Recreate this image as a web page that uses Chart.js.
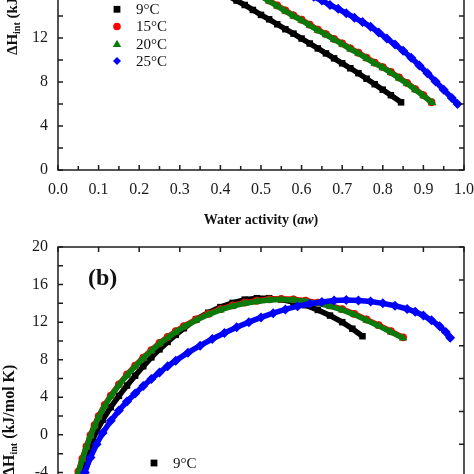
<!DOCTYPE html>
<html><head><meta charset="utf-8">
<script src="https://cdn.jsdelivr.net/npm/chart.js@4.4.1/dist/chart.umd.min.js"></script>
<style>
html,body{margin:0;padding:0;background:#fff;}
#wrap{position:relative;width:474px;height:474px;overflow:hidden;background:#fff;}
#cA{position:absolute;left:0;top:-60px;}
#cB{position:absolute;left:0;top:237px;}
</style></head><body>
<div id="wrap">
<canvas id="cA" width="474" height="300"></canvas>
<canvas id="cB" width="474" height="340"></canvas>
</div>
<script>
// ---------- data ----------
const seriesLabels = ['9°C', '15°C', '20°C', '25°C'];

// Panel (a): water activity vs ΔH_int
const awA9  = [0.42,0.44,0.46,0.48,0.50,0.52,0.54,0.56,0.58,0.60,0.62,0.64,0.66,0.68,0.70,0.72,0.74,0.76,0.78,0.80,0.82,0.845];
const dhA9  = [15.8,15.4,15.0,14.55,14.1,13.7,13.25,12.8,12.4,11.95,11.5,11.05,10.6,10.15,9.7,9.25,8.8,8.3,7.8,7.3,6.8,6.15];
const awA15 = [0.50,0.52,0.54,0.56,0.58,0.60,0.62,0.64,0.66,0.68,0.70,0.72,0.74,0.76,0.78,0.80,0.82,0.84,0.86,0.88,0.90,0.92];
const dhA15 = [15.86,15.41,14.96,14.51,14.06,13.66,13.21,12.76,12.36,11.91,11.51,11.06,10.66,10.21,9.76,9.36,8.91,8.41,7.91,7.36,6.81,6.16];
const awA20 = [0.50,0.52,0.54,0.56,0.58,0.60,0.62,0.64,0.66,0.68,0.70,0.72,0.74,0.76,0.78,0.80,0.82,0.84,0.86,0.88,0.90,0.922];
const dhA20 = [15.8,15.35,14.9,14.45,14.0,13.6,13.15,12.7,12.3,11.85,11.45,11.0,10.6,10.15,9.7,9.3,8.85,8.35,7.85,7.3,6.75,6.1];
const awA25 = [0.63,0.65,0.67,0.69,0.71,0.73,0.75,0.77,0.79,0.81,0.83,0.85,0.87,0.89,0.91,0.93,0.95,0.97,0.984];
const dhA25 = [15.75,15.4,15.0,14.65,14.25,13.85,13.45,13.03,12.5,11.95,11.4,10.85,10.2,9.5,8.8,8.05,7.3,6.55,6.0];

// Panel (b)
const xB9  = [0.055,0.065,0.075,0.085,0.095,0.11,0.13,0.15,0.17,0.19,0.21,0.23,0.25,0.27,0.29,0.31,0.34,0.37,0.40,0.43,0.46,0.49,0.52,0.55,0.58,0.61,0.64,0.67,0.70,0.725,0.75];
const dhB9 = [-4.0,-2.75,-1.6,-0.55,0.4,1.6,2.95,4.15,5.25,6.3,7.3,8.25,9.1,9.9,10.65,11.35,12.3,13.0,13.6,14.05,14.4,14.55,14.55,14.4,14.15,13.8,13.3,12.7,12.0,11.3,10.5];
const xB15  = [0.05,0.06,0.07,0.08,0.09,0.10,0.115,0.13,0.15,0.17,0.19,0.21,0.23,0.25,0.27,0.29,0.31,0.34,0.37,0.40,0.43,0.46,0.49,0.52,0.55,0.58,0.61,0.64,0.67,0.70,0.73,0.76,0.79,0.82,0.85];
const dhB15 = [-3.92,-2.52,-1.22,-0.02,1.03,1.98,3.18,4.18,5.38,6.43,7.38,8.23,9.03,9.78,10.43,11.03,11.58,12.28,12.88,13.38,13.78,14.08,14.28,14.43,14.48,14.43,14.28,14.08,13.78,13.38,12.88,12.28,11.68,11.03,10.38];
const xB20  = [0.05,0.06,0.07,0.08,0.09,0.10,0.115,0.13,0.15,0.17,0.19,0.21,0.23,0.25,0.27,0.29,0.31,0.34,0.37,0.40,0.43,0.46,0.49,0.52,0.55,0.58,0.61,0.64,0.67,0.70,0.73,0.76,0.79,0.82,0.85];
const dhB20 = [-4.0,-2.6,-1.3,-0.1,0.95,1.9,3.1,4.1,5.3,6.35,7.3,8.15,8.95,9.7,10.35,10.95,11.5,12.2,12.8,13.3,13.7,14.0,14.2,14.35,14.4,14.35,14.2,14.0,13.7,13.3,12.8,12.2,11.6,10.95,10.3];
const xB25  = [0.066,0.08,0.095,0.11,0.13,0.15,0.17,0.19,0.21,0.23,0.25,0.27,0.29,0.32,0.35,0.38,0.41,0.44,0.47,0.50,0.53,0.56,0.59,0.62,0.65,0.68,0.71,0.74,0.77,0.80,0.83,0.86,0.88,0.90,0.92,0.94,0.955,0.966];
const dhB25 = [-4.0,-2.4,-1.0,0.2,1.5,2.6,3.55,4.4,5.2,5.95,6.65,7.3,7.9,8.75,9.5,10.2,10.85,11.45,12.0,12.5,12.95,13.35,13.7,13.95,14.15,14.3,14.35,14.3,14.2,14.0,13.75,13.4,13.1,12.7,12.2,11.55,10.95,10.35];

// ---------- styling ----------
const FONT = "'Liberation Serif','Times New Roman',serif";
const AX = '#1c1c1c';
const COLORS = ['#000000', '#ff0000', '#0a7a0a', '#0000ff'];
const STYLES = ['rect', 'circle', 'triangle', 'rectRot'];
const RADII = [4.6, 3.9, 4.9, 5.0];
const ORDERS = [3, 2, 1, 0];

function ds(i, xs, ys) {
  return {
    label: seriesLabels[i],
    data: xs.map((v, k) => ({x: v, y: ys[k]})),
    showLine: true,
    borderColor: COLORS[i],
    backgroundColor: COLORS[i],
    borderWidth: 5.5,
    pointStyle: STYLES[i],
    pointRadius: RADII[i],
    pointBorderWidth: 0,
    order: ORDERS[i]
  };
}

function marker(ctx, style, x, y, r, color) {
  ctx.fillStyle = color;
  ctx.beginPath();
  if (style === 'rect') { const s = r * 0.85; ctx.rect(x - s, y - s, 2 * s, 2 * s); }
  else if (style === 'circle') { ctx.arc(x, y, r * 0.95, 0, Math.PI * 2); }
  else if (style === 'triangle') { ctx.moveTo(x, y - r); ctx.lineTo(x + r * 1.05, y + r * 0.8); ctx.lineTo(x - r * 1.05, y + r * 0.8); ctx.closePath(); }
  else { ctx.moveTo(x, y - r); ctx.lineTo(x + r, y); ctx.lineTo(x, y + r); ctx.lineTo(x - r, y); ctx.closePath(); }
  ctx.fill();
}

function isMajorX(v) { return Math.round(v * 100) % 10 === 0; }

const framePlugin = {
  id: 'frame',
  afterDatasetsDraw(chart, args, o) {
    const {ctx, chartArea: a, scales: {x, y}} = chart;
    ctx.save();
    ctx.strokeStyle = AX;
    ctx.lineWidth = 1.5;
    ctx.strokeRect(a.left, a.top, a.right - a.left, a.bottom - a.top);
    ctx.beginPath();
    const L = 5;
    y.ticks.forEach(t => {
      const p = y.getPixelForValue(t.value);
      ctx.moveTo(a.left, p); ctx.lineTo(a.left + L, p);
      if (!o.rightDiv) { ctx.moveTo(a.right, p); ctx.lineTo(a.right - L, p); }
    });
    if (o.rightDiv) {
      for (let i = 0; i <= o.rightDiv; i++) {
        const p = a.top + i * (a.bottom - a.top) / o.rightDiv;
        ctx.moveTo(a.right, p); ctx.lineTo(a.right - L, p);
      }
    }
    x.ticks.forEach(t => {
      const p = x.getPixelForValue(t.value);
      const major = isMajorX(t.value);
      if (o.bottomTicks) { ctx.moveTo(p, a.bottom); ctx.lineTo(p, a.bottom - (major ? L : L - 1)); }
      if (o.topTicks && major) { ctx.moveTo(p, a.top); ctx.lineTo(p, a.top + L); }
    });
    ctx.stroke();
    ctx.restore();
  },
  afterDraw(chart, args, o) {
    const {ctx, chartArea: a} = chart;
    ctx.save();
    if (o.legend) {
      const lg = o.legend;
      seriesLabels.forEach((lab, i) => {
        const yy = a.top + lg.dy + i * 17.2;
        marker(ctx, STYLES[i], a.left + lg.dx, yy, 4.0, COLORS[i]);
        ctx.fillStyle = '#111';
        ctx.font = '15px ' + FONT;
        ctx.textBaseline = 'middle';
        ctx.textAlign = 'left';
        ctx.fillText(lab, a.left + lg.dx + 19, yy + 1);
      });
    }
    if (o.letter) {
      ctx.fillStyle = '#111';
      ctx.font = 'bold 24px ' + FONT;
      ctx.textBaseline = 'middle';
      ctx.textAlign = 'left';
      ctx.fillText(o.letter, a.left + 30, a.top + 32);
    }
    if (o.xTitle) {
      const parts = [['bold 14px ' + FONT, 'Water activity ('], ['bold italic 14px ' + FONT, 'aw'], ['bold 14px ' + FONT, ')']];
      let w = 0;
      parts.forEach(p => { ctx.font = p[0]; w += ctx.measureText(p[1]).width; });
      let xx = (a.left + a.right) / 2 - w / 2;
      ctx.fillStyle = '#111';
      ctx.textBaseline = 'middle';
      ctx.textAlign = 'left';
      parts.forEach(p => { ctx.font = p[0]; ctx.fillText(p[1], xx, a.bottom + 50); xx += ctx.measureText(p[1]).width; });
    }
    if (o.yTitle) {
      const yt = o.yTitle;
      ctx.translate(yt.x, yt.yRef === 'bottom' ? a.bottom + yt.dy : a.top + yt.dy);
      ctx.rotate(-Math.PI / 2);
      ctx.fillStyle = '#111';
      ctx.textBaseline = 'middle';
      ctx.textAlign = 'left';
      let xx = 0;
      ctx.font = 'bold ' + yt.size + 'px ' + FONT; ctx.fillText('ΔH', xx, 0); xx += ctx.measureText('ΔH').width;
      ctx.font = 'bold 10px ' + FONT; ctx.fillText('int', xx, 4); xx += ctx.measureText('int').width;
      ctx.font = 'bold ' + yt.size + 'px ' + FONT; ctx.fillText(yt.unit, xx, 0);
    }
    ctx.restore();
  }
};

function xTickCb(v) { const k = Math.round(v * 100); return k % 10 === 0 ? (k / 100).toFixed(1) : ''; }
function yTickCb(v) { const k = Math.round(v); return k % 4 === 0 ? String(k) : ''; }
function noPad(s) { s.paddingTop = 0; s.paddingBottom = 0; s.paddingLeft = 0; s.paddingRight = 0; }

function baseScales(yMin, yMax, xh) {
  return {
    x: {
      type: 'linear', min: 0, max: 1,
      grid: {display: false, drawTicks: false},
      border: {display: false},
      ticks: {stepSize: 0.05, autoSkip: false, maxRotation: 0, padding: 10, color: '#1a1a1a',
              font: {family: FONT, size: 16}, callback: xTickCb},
      afterFit: s => { s.height = xh; noPad(s); }
    },
    y: {
      type: 'linear', min: yMin, max: yMax,
      grid: {display: false, drawTicks: false},
      border: {display: false},
      ticks: {stepSize: 2, autoSkip: false, padding: 10, color: '#1a1a1a',
              font: {family: FONT, size: 16}, callback: yTickCb},
      afterFit: s => { s.width = 58; noPad(s); }
    }
  };
}

const common = {
  responsive: false,
  animation: false,
  layout: {padding: {left: 0, right: 10, top: 10, bottom: 0}},
};

new Chart(document.getElementById('cA'), {
  type: 'scatter',
  data: {datasets: [ds(0, awA9, dhA9), ds(1, awA15, dhA15), ds(2, awA20, dhA20), ds(3, awA25, dhA25)]},
  options: Object.assign({}, common, {
    scales: baseScales(0, 20, 70),
    plugins: {
      legend: {display: false}, tooltip: {enabled: false},
      frame: {bottomTicks: true, topTicks: false,
              legend: {dx: 59, dy: 59.3},
              xTitle: true,
              yTitle: {x: 13, yRef: 'bottom', dy: -115, size: 15, unit: ' (kJ/mol)'}}
    }
  }),
  plugins: [framePlugin]
});

new Chart(document.getElementById('cB'), {
  type: 'scatter',
  data: {datasets: [ds(0, xB9, dhB9), ds(1, xB15, dhB15), ds(2, xB20, dhB20), ds(3, xB25, dhB25)]},
  options: Object.assign({}, common, {
    scales: baseScales(-8, 20, 67),
    plugins: {
      legend: {display: false}, tooltip: {enabled: false},
      frame: {bottomTicks: true, topTicks: true, rightDiv: 8,
              legend: {dx: 96, dy: 216},
              letter: '(b)',
              yTitle: {x: 10, yRef: 'top', dy: 230, size: 16, unit: ' (kJ/mol K)'}}
    }
  }),
  plugins: [framePlugin]
});
</script>
</body></html>
